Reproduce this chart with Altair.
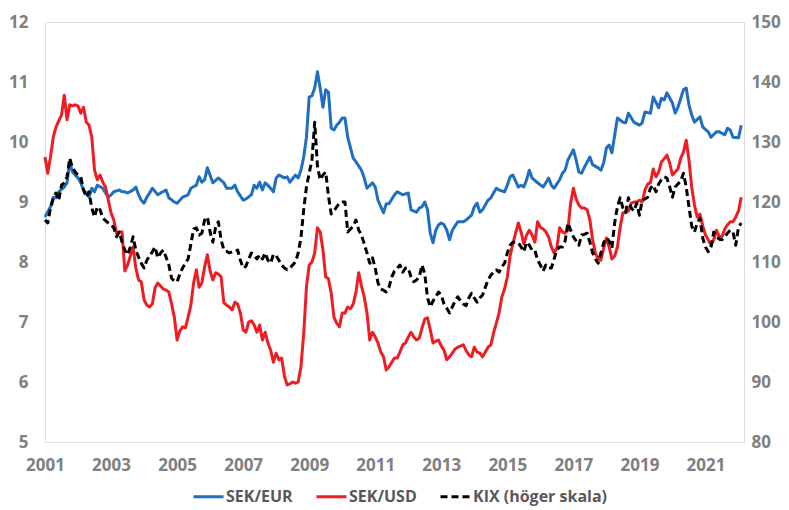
import altair as alt
import pandas as pd

# months since Jan 2001 and values
eur_m = [0, 2, 3, 4, 5, 7, 8, 9, 10, 12, 13, 14, 15, 16, 17, 18, 19, 21, 22, 23, 24, 25, 27, 28, 29, 30,
         32, 33, 34, 35, 36, 37, 38, 39, 41, 42, 44, 45, 47, 48, 50, 52, 53, 55, 56, 57, 58, 59, 61, 63,
         65, 66, 68, 69, 70, 72, 73, 75, 76, 77, 78, 79, 80, 81, 83, 84, 85, 87, 88, 89, 91, 92, 93, 94,
         95, 96, 97, 98, 99, 100, 101, 102, 103, 104, 105, 106, 107, 108, 109, 110, 112, 113, 115, 116,
         117, 119, 120, 121, 123, 124, 125, 127, 128, 130, 132, 133, 135, 136, 137, 138, 139, 140, 141,
         142, 143, 144, 145, 146, 147, 148, 150, 152, 153, 155, 156, 157, 158, 159, 161, 162, 164, 165,
         167, 168, 169, 170, 172, 173, 174, 175, 176, 177, 179, 181, 182, 183, 184, 185, 187, 188, 189,
         190, 192, 193, 194, 195, 196, 198, 199, 201, 202, 203, 204, 205, 206, 208, 210, 211, 212, 214,
         216, 217, 218, 220, 221, 223, 224, 225, 226, 228, 229, 230, 232, 233, 234, 235, 236, 238, 239,
         241, 242, 244, 245, 247, 248, 249, 250, 252, 253]
eur_v = [8.75, 8.92, 9.08, 9.07, 9.17, 9.25, 9.32, 9.67, 9.5, 9.4, 9.32, 9.2, 9.15, 9.08, 9.23, 9.17, 9.28,
         9.23, 9.15, 9.08, 9.12, 9.17, 9.2, 9.17, 9.17, 9.15, 9.2, 9.25, 9.12, 9.03, 8.98, 9.08, 9.15, 9.23,
         9.12, 9.15, 9.2, 9.07, 9.0, 8.98, 9.08, 9.12, 9.23, 9.28, 9.42, 9.33, 9.37, 9.57, 9.32, 9.4, 9.32,
         9.23, 9.23, 9.28, 9.17, 9.03, 9.05, 9.12, 9.28, 9.23, 9.33, 9.2, 9.32, 9.28, 9.17, 9.4, 9.45, 9.4,
         9.42, 9.33, 9.45, 9.4, 9.53, 9.75, 10.08, 10.75, 10.77, 10.9, 11.17, 10.9, 10.58, 10.87, 10.83,
         10.23, 10.2, 10.28, 10.33, 10.4, 10.4, 10.08, 9.73, 9.67, 9.53, 9.4, 9.23, 9.32, 9.25, 9.03, 8.82,
         8.97, 8.97, 9.12, 9.17, 9.12, 9.15, 8.87, 8.83, 8.9, 8.92, 9.0, 8.87, 8.48, 8.32, 8.53, 8.62,
         8.65, 8.62, 8.53, 8.37, 8.53, 8.67, 8.67, 8.7, 8.78, 8.92, 8.98, 8.83, 8.87, 9.03, 9.07, 9.23,
         9.2, 9.17, 9.28, 9.42, 9.45, 9.25, 9.28, 9.25, 9.37, 9.53, 9.4, 9.32, 9.25, 9.32, 9.4, 9.28, 9.23,
         9.37, 9.48, 9.53, 9.7, 9.87, 9.7, 9.5, 9.48, 9.58, 9.75, 9.62, 9.57, 9.53, 9.65, 9.9, 9.95, 9.82,
         10.4, 10.33, 10.32, 10.48, 10.33, 10.28, 10.32, 10.5, 10.48, 10.75, 10.57, 10.73, 10.7, 10.82,
         10.65, 10.48, 10.58, 10.87, 10.9, 10.62, 10.45, 10.33, 10.42, 10.25, 10.17, 10.08, 10.17, 10.17,
         10.12, 10.23, 10.2, 10.08, 10.07, 10.28]

usd_v = [9.75, 9.48, 9.75, 10.08, 10.25, 10.35, 10.45, 10.78, 10.37, 10.62, 10.6, 10.62, 10.6, 10.48,
         10.58, 10.33, 10.28, 10.08, 9.53, 9.37, 9.45, 9.33, 9.25, 9.03, 8.82, 8.7, 8.48, 8.5, 8.5, 7.85,
         7.95, 8.1, 8.25, 7.9, 7.7, 7.67, 7.37, 7.28, 7.25, 7.3, 7.57, 7.65, 7.6, 7.55, 7.53, 7.5, 7.3,
         7.08, 6.7, 6.85, 6.92, 6.9, 7.08, 7.28, 7.65, 7.87, 7.58, 7.65, 7.92, 8.12, 7.85, 7.7, 7.82, 7.8,
         7.75, 7.32, 7.28, 7.25, 7.2, 7.33, 7.3, 7.15, 6.87, 6.83, 7.0, 7.02, 6.95, 6.83, 6.95, 6.7, 6.83,
         6.65, 6.53, 6.33, 6.48, 6.37, 6.4, 6.1, 5.95, 5.97, 6.0, 5.98, 6.0, 6.25, 6.8, 7.58, 7.95, 8.0,
         8.15, 8.57, 8.5, 8.2, 7.75, 7.72, 7.48, 7.08, 6.98, 6.92, 7.15, 7.15, 7.25, 7.22, 7.3, 7.5, 7.82,
         7.6, 7.42, 7.15, 6.7, 6.83, 6.75, 6.65, 6.5, 6.42, 6.2, 6.25, 6.33, 6.4, 6.4, 6.5, 6.62, 6.65,
         6.75, 6.83, 6.75, 6.7, 6.73, 6.9, 7.05, 7.07, 6.87, 6.65, 6.68, 6.7, 6.6, 6.53, 6.37, 6.42, 6.48,
         6.55, 6.58, 6.6, 6.62, 6.53, 6.45, 6.42, 6.58, 6.5, 6.48, 6.42, 6.5, 6.58, 6.62, 6.82, 6.98, 7.15,
         7.42, 7.55, 7.75, 8.1, 8.3, 8.48, 8.65, 8.5, 8.3, 8.45, 8.53, 8.45, 8.33, 8.67, 8.58, 8.55, 8.5,
         8.42, 8.25, 8.15, 8.23, 8.57, 8.5, 8.48, 8.53, 8.98, 9.23, 9.05, 8.95, 8.9, 8.9, 8.87, 8.7, 8.37,
         8.15, 8.05, 8.03, 8.23, 8.4, 8.25, 8.05, 8.1, 8.25, 8.58, 8.82, 8.82, 8.85, 8.98, 9.0, 9.0,
         9.03, 9.0, 9.2, 9.3, 9.32, 9.55, 9.42, 9.5, 9.67, 9.72, 9.78, 9.65, 9.45, 9.5, 9.55, 9.73, 9.83,
         10.03, 9.7, 9.25, 8.95, 8.75, 8.8, 8.6, 8.45, 8.37, 8.28, 8.37, 8.53, 8.42, 8.42, 8.55, 8.62, 8.67,
         8.67, 8.75, 8.85, 9.08]
usd_m = list(range(len(usd_v)))

kix_v = [117, 116.5, 119, 120.5, 121.5, 120.3, 122.8, 123.2, 124.2, 127.3, 125.7, 125, 124.5, 124.2, 122,
         120.8, 121.7, 119, 117.5, 119.2, 118.7, 117.3, 116.9, 116.5, 116.2, 115.7, 114.2, 115, 113.3, 112,
         111.2, 112.5, 114.2, 112, 110.8, 109.8, 109, 110.3, 111, 111.7, 112.5, 110.7, 111.5, 112, 110.8,
         109.5, 107.3, 106.8, 106.7, 108, 109, 109.8, 110.5, 113, 115.5, 115.7, 114.5, 114.8, 117, 117.5,
         115, 113.3, 115.8, 116.7, 113.7, 112, 111.8, 111.5, 111.7, 111.7, 112, 110.3, 109, 109.3, 110.5,
         111.5, 111.2, 110.5, 111.2, 110.5, 111.5, 110.3, 109.8, 111.3, 111, 110.3, 109.5, 109, 108.7, 109,
         109.5, 110, 111.5, 114, 118.7, 122.5, 124.8, 127, 133.3, 126, 123.7, 124.5, 125, 121, 118, 118.5,
         119.2, 119.8, 120, 120, 115, 115.5, 116, 117, 115.3, 114.5, 113, 111.5, 109.8, 110.7, 109, 106.5,
         105.5, 105.3, 105, 105.8, 107.5, 108.5, 109, 109.5, 108.3, 109, 109, 107.5, 106.7, 107, 107.5,
         109.5, 108, 104, 102.5, 103.5, 104.2, 105, 104.5, 103, 102.3, 101.5, 102.5, 103.5, 104.2, 103.5,
         103, 102.7, 104, 104.8, 104, 103.3, 104, 104.5, 105.8, 107, 107.8, 108.3, 108.7, 108.3, 109.2,
         109.8, 111.5, 112.8, 113.3, 113.3, 113.2, 112.5, 111.7, 113.3, 112.8, 112, 112, 110.3, 109.5,
         108.5, 109.5, 109, 109, 110.5, 112, 112.5, 112.5, 113.5, 116.5, 115.3, 114.2, 113.5, 112.8, 114.5,
         114.6, 114.8, 113.3, 111.5, 110.5, 109.8, 111.5, 113.2, 114, 113.5, 112.3, 116.5, 119.2, 120.7,
         119, 118.3, 120.7, 119, 118.5, 119.8, 117.8, 120.3, 120.5, 120.8, 122.3, 122.8, 121.7, 123,
         123.7, 124.2, 124, 122.5, 120.8, 122.5, 123, 123.5, 124.8, 122.5, 119.2, 116, 115, 116.5, 117.3,
         114, 112.5, 111.7, 112.5, 115, 114.2, 113.8, 113.7, 114.2, 114.8, 115.3, 115, 112.8, 115.8, 116.5]
kix_m = list(range(len(kix_v)))

series_names = ["SEK/EUR", "SEK/USD", "KIX (höger skala)"]
series_colors = ["#1F6EBF", "#EE1D23", "#000000"]
year_ticks = [2001, 2003, 2005, 2007, 2009, 2011, 2013, 2015, 2017, 2019, 2021]
left_ticks = [5, 6, 7, 8, 9, 10, 11, 12]
right_ticks = [80, 90, 100, 110, 120, 130, 140, 150]

left_df = pd.concat([
    pd.DataFrame({"t": [2001 + m / 12 for m in eur_m], "v": eur_v, "s": series_names[0]}),
    pd.DataFrame({"t": [2001 + m / 12 for m in usd_m], "v": usd_v, "s": series_names[1]}),
])
right_df = pd.DataFrame({"t": [2001 + m / 12 for m in kix_m], "v": kix_v, "s": series_names[2]})

FONT = "Open Sans"
GRAY = "#808080"

x_enc = alt.X("t:Q", scale=alt.Scale(domain=[2001, 2001 + 254 / 12], nice=False, zero=False),
              axis=alt.Axis(values=year_ticks, format="d", title=None, grid=False, domain=False,
                            ticks=False, tickSize=0, labelPadding=15, labelFont=FONT,
                            labelFontSize=17, labelFontWeight="bold", labelColor=GRAY,
                            labelFlush=False))

legend_kw = dict(title=None, orient="none", legendX=147, legendY=458,
                 direction="horizontal", symbolType="stroke",
                 symbolSize=900, symbolStrokeWidth=3, labelFont=FONT,
                 labelFontSize=16, labelFontWeight="bold",
                 labelColor="#595959", labelOffset=1, columnPadding=17, padding=0)

color_enc = alt.Color("s:N", scale=alt.Scale(domain=series_names, range=series_colors),
                      legend=alt.Legend(**legend_kw))
dash_enc = alt.StrokeDash("s:N", scale=alt.Scale(domain=series_names,
                                                 range=[[1, 0], [1, 0], [7, 4]]),
                          legend=alt.Legend(**legend_kw))

left = alt.Chart(left_df).mark_line(strokeWidth=3, strokeJoin="round").encode(
    x=x_enc,
    y=alt.Y("v:Q", scale=alt.Scale(domain=[5, 12], nice=False, zero=False),
            axis=alt.Axis(orient="left", values=left_ticks, title=None, grid=False, domain=False,
                          ticks=False, tickSize=0, labelPadding=17, labelFont=FONT,
                          labelFontSize=17, labelFontWeight="bold", labelColor=GRAY)),
    color=color_enc,
    strokeDash=dash_enc,
)

right = alt.Chart(right_df).mark_line(strokeWidth=3, strokeJoin="round").encode(
    x=x_enc,
    y=alt.Y("v:Q", scale=alt.Scale(domain=[80, 150], nice=False, zero=False),
            axis=alt.Axis(orient="right", values=right_ticks, title=None, grid=False, domain=False,
                          ticks=False, tickSize=0, labelPadding=7, labelFont=FONT,
                          labelFontSize=17, labelFontWeight="bold", labelColor=GRAY)),
    color=color_enc,
    strokeDash=dash_enc,
)

chart = alt.layer(left, right).resolve_scale(y="independent").properties(
    width=699, height=420,
    autosize=alt.AutoSizeParams(type="none"),
    padding={"left": 37, "top": 14, "right": 37, "bottom": 64},
).configure_view(stroke=None).configure(background="white")

chart.save("out.html", embed_options={"renderer": "svg", "actions": False})
